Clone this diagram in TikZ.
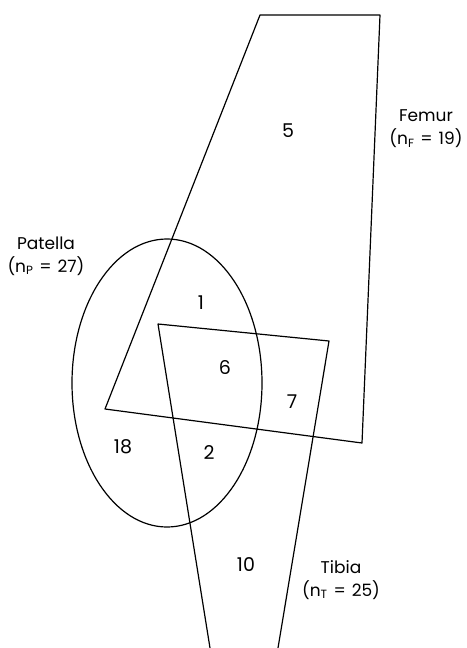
\documentclass[tikz,border=0pt]{standalone}
\usepackage{fontspec}
\setmainfont{Poppins}
\begin{document}
\begin{tikzpicture}[
  x=1pt,
  y=-1pt,
  line cap=round,
  line join=round,
  edge/.style={line width=1.2pt},
  count/.style={font=\fontsize{19}{22}\selectfont},
  setlabel/.style={align=center,font=\fontsize{17}{23}\selectfont}
]
  \def\patcx{167}
  \def\patcy{383}
  \def\patrx{95}
  \def\patry{144}
  \def\eqsp{\hspace{0.35em}=\hspace{0.35em}}

  \useasboundingbox (0,0) rectangle (466,648);

  % Femur
  \coordinate (F1) at (260,15);
  \coordinate (F2) at (380,15);
  \coordinate (F3) at (362,443);
  \coordinate (F4) at (105,409);

  \draw[edge]
    (F1) -- (F2) -- (F3) -- (F4) -- cycle;

  % Tibia
  \coordinate (T1) at (210,648);
  \coordinate (T2) at (158,324);
  \coordinate (T3) at (329,341);
  \coordinate (T4) at (278,648);

  \draw[edge]
    (T1) -- (T2) -- (T3) -- (T4);

  % Patella
  \coordinate (P) at (\patcx,\patcy);

  \draw[edge]
    (P)
    ellipse[
      x radius=\patrx,
      y radius=\patry
    ];

  % Labels
  \node[setlabel] (femur) at (426,129) {Femur\\(n\textsubscript{F}\eqsp19)};
  \node[setlabel] (patella) at (46,256) {Patella\\(n\textsubscript{P}\eqsp27)};
  \node[setlabel] (tibia) at (341,580) {Tibia\\(n\textsubscript{T}\eqsp25)};

  % Counts
  \node[count] (n5) at (288,131) {5};
  \node[count] (n1) at (201,303) {1};
  \node[count] (n6) at (225,368) {6};
  \node[count] (n7) at (292,402) {7};
  \node[count] (n18) at (123,447) {18};
  \node[count] (n2) at (209,453) {2};
  \node[count] (n10) at (246,565) {10};
\end{tikzpicture}
\end{document}
